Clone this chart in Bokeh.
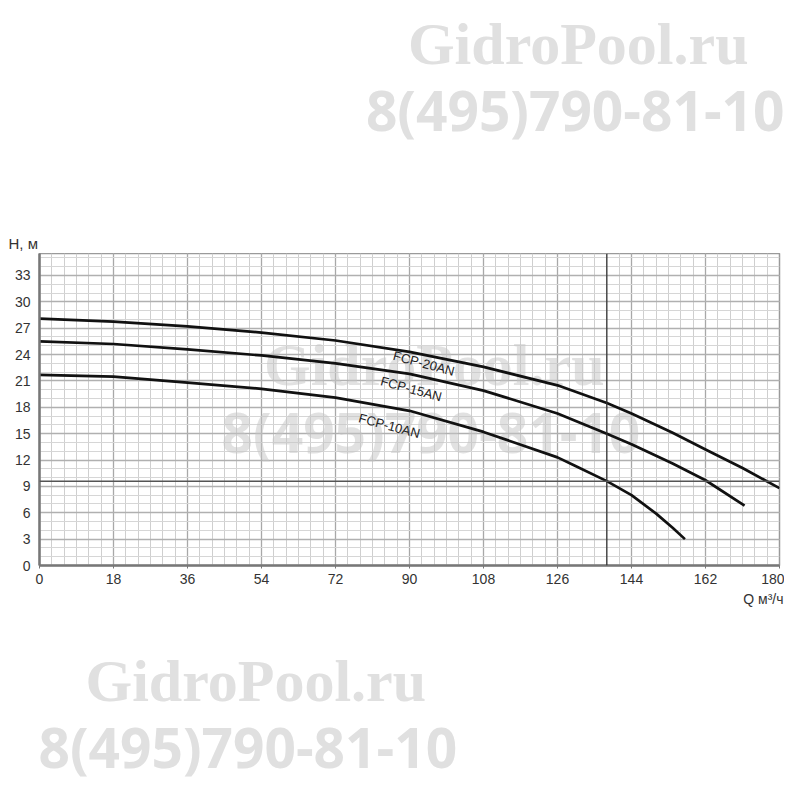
from bokeh.plotting import figure
from bokeh.models import FixedTicker, Span, Range1d
from bokeh.layouts import column
from bokeh.core.properties import value
from bokeh.embed import file_html
from bokeh.resources import INLINE

# ---- data ----
q_20 = [0, 18, 36, 54, 72, 90, 108, 126, 138, 144, 154, 162, 171, 180]
h_20 = [28.1, 27.75, 27.2, 26.5, 25.6, 24.3, 22.6, 20.5, 18.5, 17.3, 15.1, 13.2, 11.1, 8.8]

q_15 = [0, 18, 36, 54, 72, 90, 108, 126, 138, 144, 154, 162, 171.5]
h_15 = [25.5, 25.2, 24.6, 23.9, 23.0, 21.8, 19.9, 17.3, 15.0, 13.8, 11.6, 9.7, 6.8]

q_10 = [0, 18, 36, 54, 72, 90, 108, 126, 130, 138, 144, 150, 154, 157]
h_10 = [21.7, 21.5, 20.8, 20.1, 19.1, 17.6, 15.2, 12.3, 11.4, 9.6, 8.0, 5.9, 4.3, 3.0]

curve_names = ["FCP-20AN", "FCP-15AN", "FCP-10AN"]
name_q = [93.5, 90.4, 85.1]
name_h = [23.0, 20.1, 15.9]

x_ticks = [0, 18, 36, 54, 72, 90, 108, 126, 144, 162, 180]
y_ticks = [0, 3, 6, 9, 12, 15, 18, 21, 24, 27, 30, 33]
duty_q = 138
duty_h = 9.6

wm_site = "GidroPool.ru"
wm_phone = "8(495)790-81-10"
WM_COLOR = "#e0e0e0"
W = 784


def blank(height):
    f = figure(width=W, height=height, output_backend="svg", toolbar_location=None,
               x_range=Range1d(0, W), y_range=Range1d(height, 0),
               x_axis_type=None, y_axis_type=None,
               min_border=0, min_border_left=0, min_border_right=0,
               min_border_top=0, min_border_bottom=0)
    f.frame_align = False
    f.outline_line_color = None
    f.grid.visible = False
    f.background_fill_color = "white"
    f.border_fill_color = "white"
    return f


# ---- top strip ----
top = blank(253)
top.text(x=[748], y=[43], text=[wm_site], text_font=value("Liberation Serif"),
         text_font_style="bold", text_font_size="60px", text_color=WM_COLOR,
         text_align="right", text_baseline="alphabetic")
top.text(x=[784], y=[109], text=[wm_phone], text_font=value("Open Sans"),
         text_font_style="bold", text_font_size="55px", text_color=WM_COLOR,
         text_align="right", text_baseline="alphabetic")
top.text(x=[8], y=[243], text=["H, м"], text_font=value("Liberation Sans"),
         text_font_size="15px", text_color="#333333",
         text_align="left", text_baseline="alphabetic")

# ---- main chart ----
p = figure(width=W, height=337, output_backend="svg", toolbar_location=None,
           x_range=(0, 180), y_range=(0, 35.5),
           min_border_left=39, min_border_right=5,
           min_border_top=0, min_border_bottom=25)
p.frame_align = False
p.background_fill_color = "white"
p.border_fill_color = "white"
p.outline_line_color = "#9a9a9a"
p.outline_line_width = 1.5

p.xaxis.ticker = FixedTicker(ticks=x_ticks, minor_ticks=list(range(0, 181, 3)))
p.yaxis.ticker = FixedTicker(ticks=y_ticks, minor_ticks=list(range(0, 36, 1)))

for ax in (p.xaxis, p.yaxis):
    ax.axis_line_color = "#777777"
    ax.axis_line_width = 2.5
    ax.minor_tick_line_color = None
    ax.major_label_text_font = "Liberation Sans"
    ax.major_label_text_font_size = "14px"
    ax.major_label_text_color = "#333333"
p.xaxis.major_tick_out = 3
p.xaxis.major_tick_in = 0
p.xaxis.major_tick_line_color = "#777777"
p.xaxis.major_label_standoff = 4
p.yaxis.major_tick_out = 0
p.yaxis.major_tick_in = 0
p.yaxis.major_label_standoff = 5

p.xgrid.grid_line_color = "#a8a8a8"
p.xgrid.grid_line_width = 1.3
p.xgrid.minor_grid_line_color = "#cfcfcf"
p.xgrid.minor_grid_line_width = 1
p.ygrid.grid_line_color = "#b0b0b0"
p.ygrid.grid_line_width = 1.3
p.ygrid.minor_grid_line_color = "#d6d6d6"
p.ygrid.minor_grid_line_width = 1

# operating point lines
p.add_layout(Span(location=duty_q, dimension="height", line_color="#333333", line_width=1.3))
p.add_layout(Span(location=duty_h, dimension="width", line_color="#555555", line_width=1.5))

# middle watermark (under the curves)
p.text(x=[54.6], y=[22.8], text=[wm_site], text_font=value("Liberation Serif"),
       text_font_style="bold", text_font_size="60px", text_color="#c4c4c4",
       text_alpha=0.5, text_align="left", text_baseline="alphabetic")
p.text(x=[44.3], y=[15.3], text=[wm_phone], text_font=value("Open Sans"),
       text_font_style="bold", text_font_size="55px", text_color="#c4c4c4",
       text_alpha=0.5, text_align="left", text_baseline="alphabetic")

# curves
for qs, hs in ((q_20, h_20), (q_15, h_15), (q_10, h_10)):
    p.line(qs, hs, line_color="#111111", line_width=2.7, line_join="round")

p.text(x=name_q, y=name_h, text=curve_names, text_font=value("Liberation Sans"),
       text_font_size="13px", text_color="#222222", angle=-15, angle_units="deg",
       text_align="center", text_baseline="middle")

# ---- bottom strip ----
bot = blank(194)
bot.text(x=[783], y=[8], text=["Q м³/ч"], text_font=value("Liberation Sans"),
         text_font_size="14px", text_color="#333333",
         text_align="right", text_baseline="alphabetic")
bot.text(x=[85], y=[90], text=[wm_site], text_font=value("Liberation Serif"),
         text_font_style="bold", text_font_size="60px", text_color=WM_COLOR,
         text_align="left", text_baseline="alphabetic")
bot.text(x=[38], y=[156], text=[wm_phone], text_font=value("Open Sans"),
         text_font_style="bold", text_font_size="55px", text_color=WM_COLOR,
         text_align="left", text_baseline="alphabetic")

layout = column(top, p, bot, spacing=0)
open("out.html", "w").write(file_html(layout, INLINE))
